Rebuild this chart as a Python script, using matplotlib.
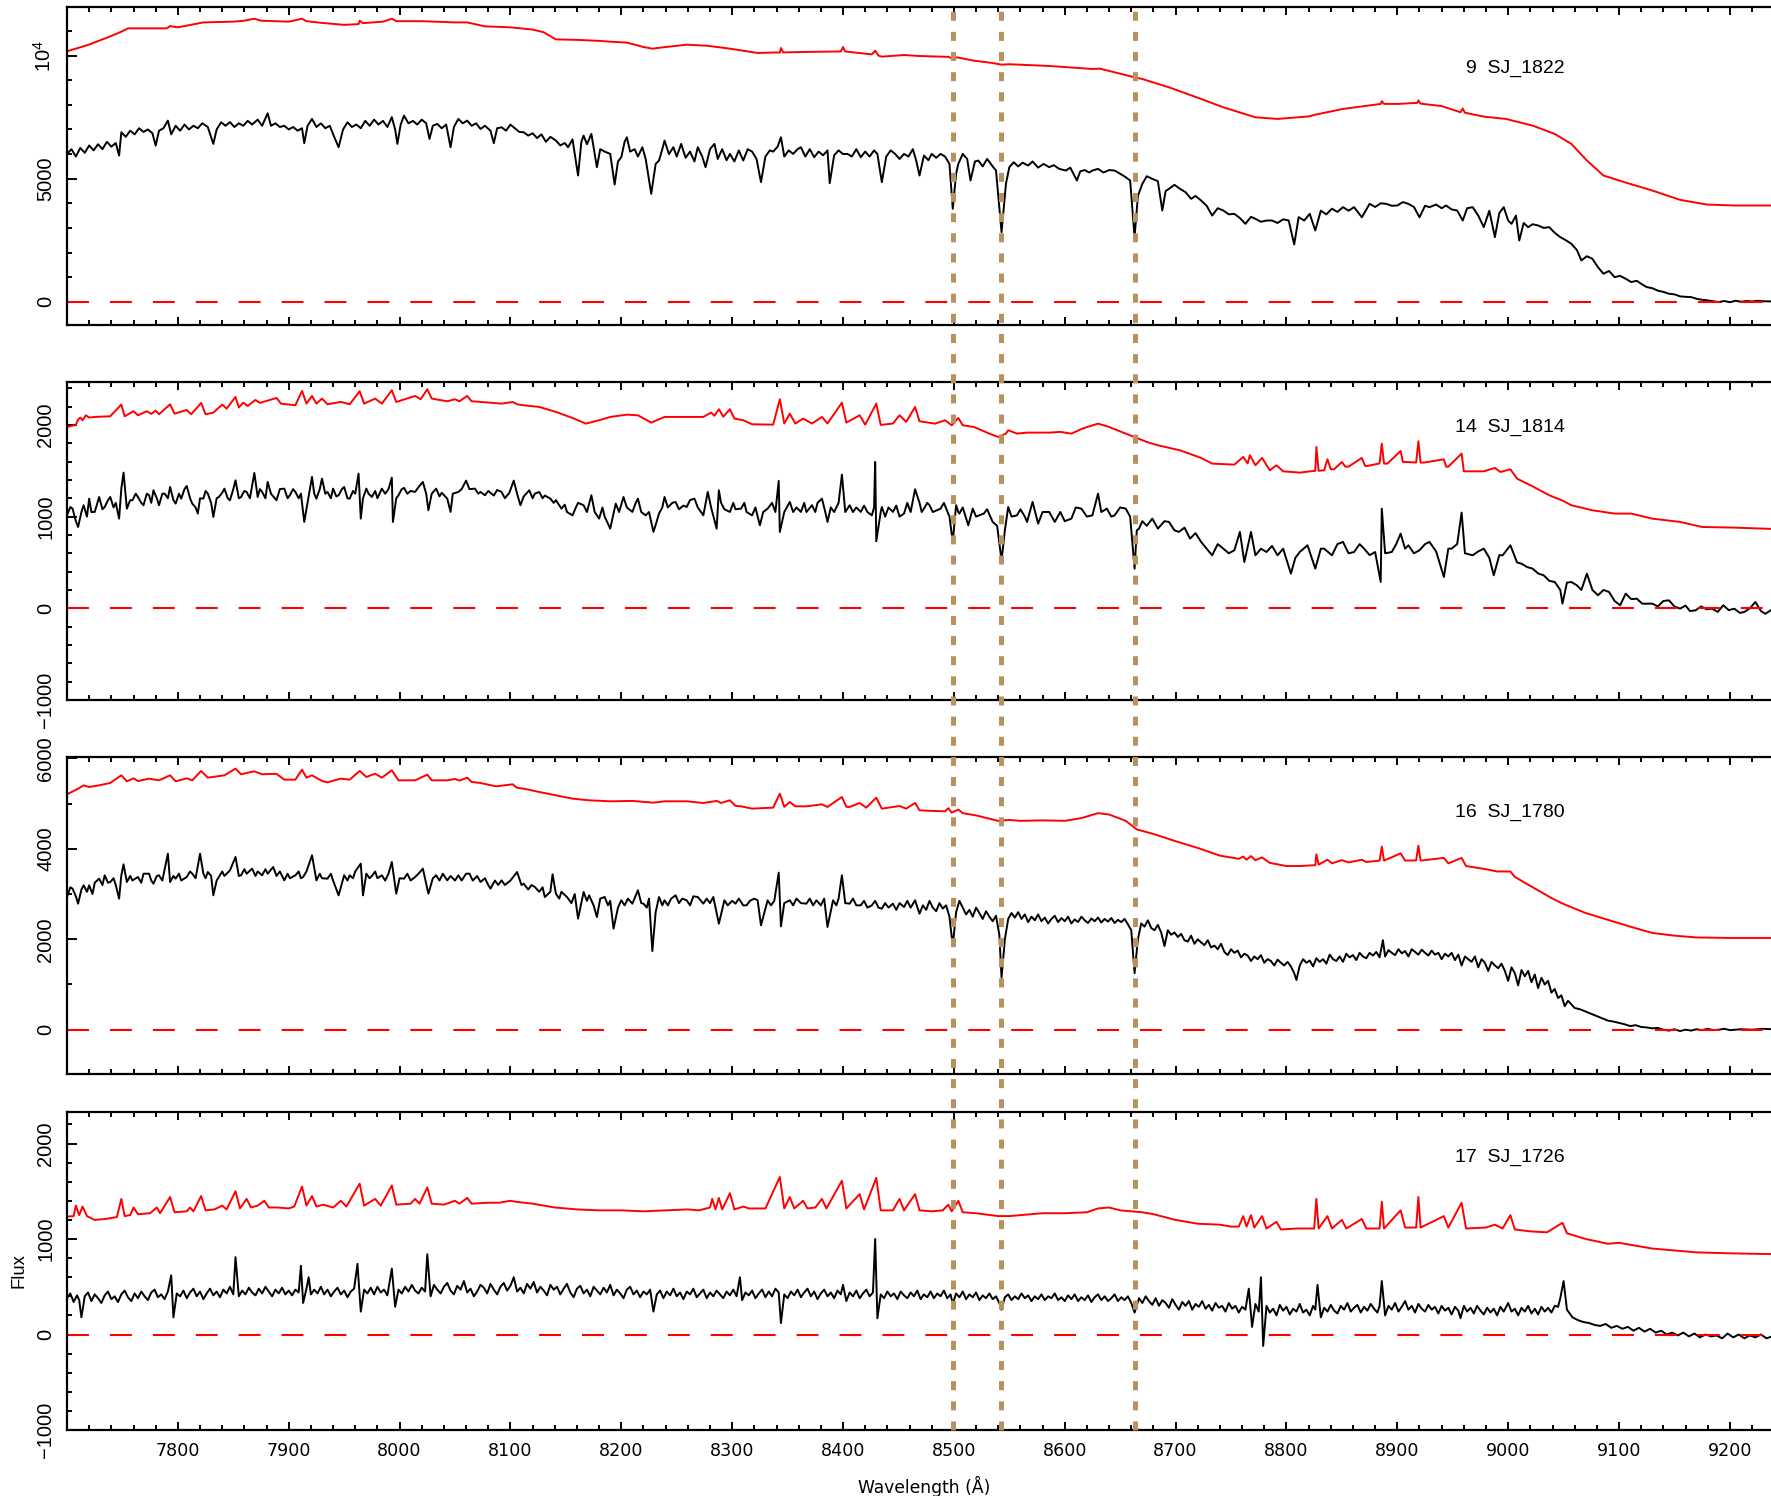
import numpy as np
import matplotlib
matplotlib.use("Agg")
import matplotlib.pyplot as plt
from matplotlib.ticker import MultipleLocator
from matplotlib.lines import Line2D
import matplotlib.transforms as mtransforms

plt.rcParams['lines.scale_dashes'] = False
plt.rcParams['mathtext.fontset'] = 'custom'
plt.rcParams['mathtext.rm'] = 'Liberation Sans'
plt.rcParams['mathtext.it'] = 'Liberation Sans'

# ---------------------------------------------------------------- spectra
# (wavelength [A], flux) pairs; obs = black spectrum, ref = red spectrum

obs1 = [(7700,6007),(7704,6200),(7708,5900),(7712,6250),(7716,6050),(7720,6350),(7724,6150),(7728,6400),
        (7732,6200),(7736,6500),(7740,6300),(7744,6450),(7747,5940),(7749,6887),(7753,6700),(7757,6950),
        (7761,6800),(7765,7050),(7769,6900),(7773,7000),(7777,6850),(7780,6345),(7783,6950),(7787,7050),
        (7791,7360),(7794,6800),(7798,7150),(7802,6950),(7806,7200),(7810,7000),(7814,7150),(7818,7050),
        (7822,7250),(7827,7100),(7832,6413),(7835,7000),(7839,7292),(7843,7150),(7847,7300),(7851,7100),
        (7855,7250),(7859,7150),(7863,7350),(7867,7200),(7872,7400),(7876,7150),(7881,7658),(7884,7150),
        (7888,7250),(7892,7100),(7896,7150),(7900,7000),(7904,7100),(7908,6950),(7912,7050),(7914,6440),
        (7917,7150),(7921,7428),(7925,7100),(7929,7250),(7933,7050),(7937,7150),(7941,6700),(7945,6278),
        (7949,7000),(7953,7292),(7957,7100),(7961,7200),(7965,7050),(7969,7350),(7973,7150),(7977,7400),
        (7981,7200),(7985,7350),(7989,7100),(7993,7500),(7996,7000),(7998,6413),(8001,7200),(8004,7563),
        (8008,7250),(8012,7350),(8016,7200),(8020,7400),(8024,7250),(8027,6616),(8030,7150),(8034,7225),
        (8038,7050),(8042,7200),(8046,6278),(8049,7100),(8053,7428),(8057,7250),(8061,7360),(8065,7150),
        (8069,7250),(8073,7022),(8077,7150),(8082,6950),(8085,6440),(8088,7050),(8092,7090),(8096,6950),
        (8100,7198),(8104,7050),(8108,6900),(8112,6887),(8116,6750),(8120,6846),(8124,6650),(8128,6800),
        (8132,6500),(8136,6700),(8141,6549),(8145,6350),(8149,6450),(8152,6278),(8156,6600),(8161,5128),
        (8164,6500),(8166,6751),(8169,6400),(8173,6819),(8176,6000),(8178,5466),(8181,6200),(8185,6100),
        (8190,6007),(8194,4763),(8197,5700),(8200,5872),(8203,6500),(8205,6684),(8208,6100),(8212,6200),
        (8215,5900),(8219,6278),(8222,5800),(8227,4384),(8231,5600),(8234,5737),(8237,6200),(8239,6549),
        (8243,6000),(8247,6278),(8250,5900),(8254,6413),(8258,5850),(8262,6100),(8266,5700),(8269,6278),
        (8273,5900),(8276,5466),(8280,6200),(8284,6413),(8287,5800),(8291,6200),(8295,5750),(8298,6007),
        (8302,5700),(8306,6150),(8310,5737),(8314,6200),(8318,6100),(8322,5800),(8326,4857),(8330,5900),
        (8334,6150),(8337,6100),(8341,6300),(8344,6684),(8347,5900),(8351,6150),(8355,6007),(8359,6200),
        (8362,6278),(8366,5900),(8370,6200),(8374,5872),(8378,6100),(8382,5950),(8386,6150),(8388,4817),
        (8392,5950),(8396,6150),(8400,6000),(8404,6007),(8408,5900),(8412,6200),(8416,5872),(8420,6100),
        (8424,5900),(8428,6150),(8431,6007),(8435,4857),(8439,5900),(8443,6150),(8447,6007),(8451,5800),
        (8455,6007),(8459,5900),(8463,6200),(8466,5737),(8469,5128),(8473,5940),(8477,5750),(8480,6007),
        (8484,5850),(8488,6007),(8492,5900),(8496,5601),(8499,3775),(8502,5200),(8504,5601),(8508,6007),
        (8512,5800),(8515,4925),(8519,5700),(8522,5737),(8526,5500),(8530,5804),(8535,5500),(8538,5331),
        (8543,2828),(8547,4800),(8550,5466),(8554,5669),(8558,5500),(8562,5650),(8567,5534),(8571,5700),
        (8576,5450),(8581,5600),(8586,5466),(8590,5550),(8595,5400),(8601,5331),(8605,5450),(8611,4925),
        (8614,5300),(8618,5350),(8622,5250),(8625,5331),(8630,5400),(8635,5250),(8640,5350),(8645,5331),
        (8650,5200),(8655,5060),(8659,4925),(8663,2625),(8666,4300),(8670,4790),(8674,5100),(8679,4993),
        (8684,4900),(8688,3707),(8691,4500),(8694,4587),(8699,4750),(8704,4587),(8709,4450),(8714,4181),
        (8718,4300),(8723,4113),(8728,3900),(8733,3504),(8738,3800),(8743,3707),(8748,3550),(8753,3572),
        (8758,3400),(8763,3166),(8768,3450),(8772,3369),(8777,3250),(8782,3300),(8787,3301),(8792,3200),
        (8797,3350),(8802,3301),(8807,2327),(8811,3437),(8816,3300),(8821,3572),(8826,2895),(8831,3700),
        (8836,3550),(8841,3780),(8846,3650),(8851,3843),(8856,3700),(8861,3843),(8868,3431),(8875,3978),
        (8880,3850),(8885,4000),(8890,3978),(8895,3900),(8900,3910),(8905,4050),(8910,3978),(8915,3850),
        (8920,3431),(8925,3900),(8929,3843),(8935,3950),(8940,3800),(8944,3910),(8949,3750),(8954,3707),
        (8959,3300),(8963,3800),(8968,3843),(8973,3500),(8978,3031),(8983,3700),(8988,2625),(8992,3600),
        (8996,3843),(9000,3300),(9003,3166),(9007,3500),(9010,2490),(9014,3200),(9018,3031),(9022,3150),
        (9027,3099),(9032,3000),(9037,3031),(9042,2800),(9047,2625),(9052,2500),(9057,2354),(9062,2100),
        (9066,1678),(9071,1850),(9076,1745),(9081,1400),(9086,1137),(9091,1250),(9096,1000),(9101,1050),
        (9106,934),(9111,800),(9116,850),(9121,700),(9125,595),(9130,550),(9135,450),(9140,400),
        (9145,325),(9150,300),(9155,220),(9160,200),(9165,189),(9170,120),(9175,80),(9180,54),
        (9185,20),(9190,-14),(9195,30),(9200,-20),(9205,40),(9210,0),(9215,30),(9220,10),
        (9225,40),(9230,20),(9237,14),(9247,10)]

ref1 = [(7700,10175),(7720,10450),(7740,10800),(7749,10973),(7755,11108),(7790,11108),(7793,11200),
        (7800,11150),(7823,11350),(7850,11380),(7860,11420),(7869,11500),(7875,11420),(7900,11380),
        (7912,11500),(7916,11400),(7930,11330),(7950,11250),(7963,11280),(7964,11420),(7967,11320),
        (7985,11380),(7993,11500),(7997,11400),(8020,11400),(8050,11350),(8061,11350),(8077,11190),
        (8100,11150),(8120,11060),(8130,10950),(8141,10660),(8160,10640),(8180,10600),(8190,10567),
        (8205,10530),(8220,10350),(8228,10283),(8240,10350),(8259,10445),(8278,10400),(8298,10283),
        (8310,10200),(8323,10107),(8340,10130),(8343,10120),(8344,10310),(8346,10130),(8365,10150),
        (8398,10170),(8400,10350),(8402,10170),(8426,10050),(8429,10200),(8432,10000),(8435,9958),
        (8455,10025),(8469,9985),(8495,9950),(8499,9880),(8503,9930),(8518,9796),(8535,9700),
        (8543,9633),(8550,9650),(8586,9580),(8625,9458),(8632,9470),(8663,9119),(8670,9050),
        (8694,8713),(8723,8240),(8743,7901),(8772,7495),(8792,7428),(8820,7530),(8826,7600),
        (8851,7834),(8885,8037),(8886,8150),(8888,8040),(8900,8037),(8918,8080),(8919,8180),
        (8921,8050),(8940,7950),(8957,7700),(8959,7850),(8961,7680),(8978,7522),(8998,7428),
        (9022,7157),(9042,6819),(9057,6413),(9071,5737),(9086,5128),(9105,4857),(9130,4519),
        (9155,4140),(9179,3951),(9204,3910),(9247,3910)]

obs2 = [(7700,1014),(7703,1105),(7705,1087),(7708,950),(7710,887),(7713,1050),(7715,1124),(7718,1000),
        (7720,1196),(7722,1050),(7725,1051),(7729,1214),(7732,1080),(7734,1105),(7737,1180),(7739,1214),
        (7742,1100),(7744,1150),(7747,978),(7749,1305),(7751,1480),(7754,1087),(7757,1180),(7759,1178),
        (7762,1250),(7764,1214),(7767,1150),(7769,1124),(7772,1250),(7774,1233),(7776,1150),(7778,1287),
        (7781,1200),(7783,1124),(7786,1250),(7788,1251),(7791,1200),(7793,1323),(7796,1180),(7798,1142),
        (7801,1250),(7803,1196),(7806,1300),(7808,1334),(7811,1200),(7813,1142),(7816,1100),(7818,1033),
        (7820,1200),(7823,1196),(7825,1280),(7827,1251),(7830,1150),(7832,996),(7835,1200),(7837,1214),
        (7840,1260),(7842,1305),(7845,1200),(7847,1178),(7850,1300),(7852,1396),(7855,1200),(7857,1214),
        (7860,1280),(7862,1269),(7865,1200),(7869,1476),(7872,1214),(7874,1300),(7876,1269),(7879,1200),
        (7881,1378),(7884,1250),(7889,1178),(7892,1300),(7896,1305),(7899,1200),(7901,1233),(7904,1300),
        (7906,1269),(7909,1200),(7911,1250),(7914,942),(7917,1150),(7921,1433),(7923,1250),(7925,1196),
        (7928,1300),(7930,1414),(7933,1250),(7935,1269),(7938,1200),(7940,1305),(7943,1220),(7945,1233),
        (7948,1300),(7950,1323),(7953,1200),(7955,1196),(7958,1280),(7960,1250),(7963,1469),(7965,978),
        (7967,1200),(7970,1305),(7972,1250),(7975,1214),(7978,1280),(7980,1200),(7984,1305),(7987,1250),
        (7990,1300),(7993,1425),(7994,942),(7997,1200),(7999,1233),(8002,1300),(8004,1313),(8007,1250),
        (8010,1280),(8014,1269),(8017,1320),(8021,1378),(8024,1250),(8026,1069),(8029,1250),(8033,1305),
        (8036,1220),(8038,1260),(8043,1196),(8046,1051),(8048,1250),(8053,1269),(8056,1300),(8060,1393),
        (8063,1300),(8068,1305),(8071,1250),(8073,1269),(8077,1233),(8080,1280),(8085,1230),(8088,1290),
        (8092,1269),(8095,1200),(8099,1260),(8103,1393),(8106,1250),(8109,1124),(8112,1220),(8117,1287),
        (8120,1200),(8122,1250),(8126,1269),(8129,1200),(8131,1230),(8136,1196),(8139,1150),(8141,1180),
        (8146,1087),(8149,1130),(8151,1050),(8156,1014),(8159,1100),(8161,1150),(8166,1124),(8169,1050),
        (8173,1233),(8176,1050),(8180,978),(8183,1100),(8185,1000),(8190,869),(8195,1142),(8198,1050),
        (8202,1214),(8205,1100),(8210,1051),(8213,1150),(8215,1196),(8218,1050),(8222,1014),(8225,1050),
        (8229,833),(8232,950),(8234,1033),(8237,1100),(8239,1214),(8242,1100),(8246,1150),(8249,1160),
        (8252,1080),(8256,1120),(8259,1105),(8262,1180),(8266,1196),(8269,1100),(8274,1014),(8278,1269),
        (8281,1100),(8286,869),(8288,1287),(8290,1150),(8293,1080),(8298,1051),(8301,1150),(8303,1080),
        (8308,1087),(8311,1150),(8313,1050),(8318,1014),(8321,1100),(8325,905),(8328,1050),(8332,1087),
        (8336,1150),(8339,1050),(8342,1389),(8343,833),(8347,1050),(8352,1160),(8355,1050),(8358,1100),
        (8362,1051),(8365,1150),(8367,1050),(8372,1124),(8375,1050),(8377,1150),(8381,1196),(8384,1050),
        (8386,942),(8389,1100),(8392,1050),(8396,1150),(8399,1458),(8402,1050),(8406,1124),(8409,1050),
        (8412,1100),(8416,1051),(8419,1120),(8422,1050),(8426,1014),(8428,1100),(8429,1596),(8430,731),
        (8434,1050),(8435,1105),(8438,1000),(8441,1100),(8445,1051),(8448,1120),(8451,1000),(8455,1033),
        (8458,1150),(8461,1050),(8465,1298),(8469,1150),(8471,1050),(8473,1087),(8476,1150),(8478,1124),
        (8481,1050),(8488,1087),(8491,1150),(8496,1000),(8499,724),(8502,1124),(8504,1050),(8505,1033),
        (8508,1100),(8513,905),(8517,1087),(8520,1000),(8527,1033),(8530,1080),(8535,942),(8539,900),
        (8543,524),(8546,850),(8549,1105),(8552,1000),(8557,1014),(8560,1080),(8564,1000),(8566,942),
        (8571,1160),(8576,923),(8580,1050),(8586,1051),(8591,942),(8596,1051),(8600,950),(8606,978),
        (8610,1100),(8615,1087),(8620,1000),(8625,1014),(8630,1251),(8633,1050),(8638,1087),(8642,1000),
        (8645,1014),(8650,1100),(8655,1087),(8659,1000),(8663,433),(8665,850),(8667,869),(8670,950),
        (8674,900),(8679,978),(8684,869),(8690,950),(8694,942),(8699,850),(8703,833),(8708,880),
        (8713,760),(8718,820),(8723,724),(8728,650),(8733,578),(8738,700),(8743,651),(8748,600),
        (8753,633),(8758,833),(8762,505),(8768,833),(8772,578),(8777,650),(8782,614),(8787,680),
        (8792,578),(8797,650),(8804,378),(8808,550),(8812,614),(8819,687),(8826,433),(8831,650),
        (8834,651),(8841,578),(8846,700),(8851,724),(8856,600),(8861,614),(8866,700),(8870,651),
        (8875,580),(8880,614),(8885,287),(8886,1087),(8889,600),(8895,614),(8899,700),(8903,814),
        (8907,650),(8910,687),(8915,600),(8920,633),(8925,700),(8929,724),(8935,620),(8942,342),
        (8946,650),(8949,651),(8954,700),(8958,1044),(8961,600),(8968,578),(8973,620),(8978,651),
        (8983,550),(8987,360),(8992,580),(8995,578),(9002,687),(9008,500),(9012,487),(9017,450),
        (9022,433),(9027,380),(9032,360),(9037,300),(9042,287),(9047,200),(9049,51),(9053,280),
        (9057,287),(9062,250),(9066,200),(9071,378),(9076,200),(9081,142),(9086,200),(9091,178),
        (9096,80),(9101,33),(9106,160),(9111,100),(9116,105),(9121,50),(9130,51),(9135,20),
        (9140,80),(9145,87),(9150,20),(9155,-4),(9160,30),(9164,-30),(9169,-22),(9174,20),
        (9179,-10),(9184,-4),(9189,-40),(9194,33),(9199,-20),(9204,-4),(9209,-50),(9213,-40),
        (9218,0),(9223,69),(9228,-30),(9232,-60),(9237,-20),(9247,-30)]

ref2 = [(7700,1978),(7708,2000),(7710,2060),(7712,2080),(7714,2050),(7717,2105),(7720,2080),(7725,2087),
        (7739,2094),(7749,2222),(7752,2094),(7760,2149),(7764,2105),(7772,2149),(7776,2120),(7780,2156),
        (7783,2116),(7793,2225),(7797,2123),(7808,2163),(7812,2116),(7821,2240),(7825,2116),(7832,2134),
        (7840,2222),(7844,2178),(7852,2305),(7855,2190),(7859,2243),(7863,2207),(7870,2272),(7874,2240),
        (7889,2294),(7893,2232),(7906,2214),(7912,2371),(7916,2232),(7921,2316),(7925,2232),(7930,2287),
        (7935,2225),(7947,2251),(7955,2225),(7964,2367),(7968,2232),(7978,2287),(7984,2232),(7993,2378),
        (7997,2250),(8014,2316),(8019,2280),(8025,2389),(8029,2287),(8043,2258),(8050,2280),(8054,2258),
        (8061,2316),(8065,2258),(8073,2251),(8092,2232),(8102,2250),(8106,2225),(8112,2214),(8126,2196),
        (8141,2142),(8156,2076),(8168,2014),(8180,2051),(8190,2087),(8205,2112),(8215,2105),(8227,2025),
        (8239,2087),(8259,2087),(8274,2087),(8281,2134),(8284,2100),(8288,2171),(8292,2090),(8298,2171),
        (8302,2069),(8310,2051),(8318,2007),(8337,2003),(8343,2280),(8347,2015),(8352,2123),(8357,2015),
        (8364,2069),(8372,2015),(8381,2087),(8386,2015),(8399,2243),(8403,2025),(8415,2105),(8420,2003),
        (8430,2232),(8434,2000),(8445,2015),(8451,2105),(8457,2033),(8465,2196),(8469,2040),(8483,2014),
        (8492,2051),(8498,1996),(8504,2076),(8508,1996),(8518,1978),(8532,1905),(8540,1869),(8547,1905),
        (8549,1942),(8557,1905),(8566,1916),(8586,1916),(8596,1924),(8606,1905),(8616,1960),(8630,2014),
        (8640,1978),(8655,1905),(8665,1858),(8674,1814),(8684,1778),(8704,1723),(8723,1640),(8733,1578),
        (8753,1567),(8761,1651),(8765,1580),(8767,1669),(8772,1560),(8778,1640),(8785,1505),(8791,1560),
        (8797,1494),(8812,1480),(8826,1500),(8827,1760),(8829,1500),(8834,1505),(8837,1625),(8840,1516),
        (8843,1516),(8850,1596),(8853,1545),(8856,1545),(8868,1640),(8871,1552),(8873,1552),(8884,1580),
        (8886,1796),(8888,1578),(8891,1578),(8903,1716),(8905,1596),(8907,1596),(8917,1590),(8919,1822),
        (8921,1589),(8924,1589),(8942,1625),(8944,1545),(8946,1545),(8958,1687),(8960,1494),(8964,1494),
        (8978,1494),(8988,1531),(8993,1487),(9002,1516),(9008,1414),(9023,1324),(9037,1233),(9049,1175),
        (9057,1124),(9076,1069),(9096,1033),(9111,1033),(9130,978),(9155,942),(9175,887),(9204,880),
        (9247,862)]

obs3 = [(7700,2935),(7703,3150),(7705,3120),(7708,2950),(7710,2788),(7713,3100),(7715,3193),(7718,3050),
        (7720,3193),(7723,3000),(7725,3250),(7729,3341),(7732,3200),(7734,3415),(7737,3250),(7739,3267),
        (7742,3350),(7744,3200),(7747,2898),(7749,3415),(7751,3658),(7754,3267),(7757,3400),(7759,3300),
        (7764,3378),(7767,3250),(7769,3450),(7774,3452),(7776,3300),(7778,3230),(7781,3400),(7783,3415),
        (7786,3300),(7791,3894),(7793,3267),(7796,3400),(7798,3341),(7801,3450),(7803,3300),(7808,3378),
        (7811,3500),(7813,3452),(7816,3350),(7820,3894),(7823,3452),(7825,3350),(7827,3488),(7830,3400),
        (7832,2972),(7835,3300),(7837,3378),(7840,3500),(7842,3400),(7847,3525),(7852,3820),(7855,3400),
        (7857,3415),(7860,3550),(7862,3450),(7867,3562),(7870,3400),(7872,3500),(7876,3415),(7879,3550),
        (7881,3450),(7886,3599),(7889,3400),(7892,3500),(7896,3304),(7899,3450),(7901,3350),(7906,3415),
        (7909,3500),(7911,3350),(7913,3378),(7916,3500),(7921,3857),(7925,3304),(7928,3450),(7930,3350),
        (7935,3341),(7938,3450),(7940,3300),(7945,2972),(7950,3415),(7953,3300),(7955,3415),(7958,3350),
        (7960,3500),(7965,3673),(7967,2972),(7970,3452),(7973,3350),(7975,3400),(7978,3500),(7980,3350),
        (7984,3415),(7987,3300),(7990,3450),(7993,3710),(7997,3009),(8000,3350),(8004,3341),(8007,3450),
        (8010,3300),(8014,3378),(8017,3450),(8021,3562),(8026,3009),(8030,3350),(8033,3415),(8036,3300),
        (8039,3450),(8043,3304),(8046,3400),(8050,3300),(8053,3415),(8056,3300),(8060,3450),(8063,3452),
        (8066,3300),(8070,3400),(8073,3267),(8077,3350),(8080,3200),(8082,3120),(8086,3300),(8089,3200),
        (8092,3304),(8095,3200),(8100,3300),(8106,3488),(8110,3200),(8112,3230),(8116,3100),(8119,3200),
        (8122,3157),(8126,3050),(8129,3150),(8131,2935),(8136,3050),(8138,3437),(8141,3009),(8144,2900),
        (8146,3050),(8151,2935),(8155,2800),(8158,3000),(8161,2456),(8166,3046),(8169,2850),(8171,2972),
        (8175,2750),(8178,2493),(8181,2900),(8185,2935),(8188,2750),(8190,2850),(8193,2235),(8197,2700),
        (8200,2862),(8203,2750),(8206,2900),(8210,2788),(8215,3083),(8218,2800),(8220,2788),(8223,2700),
        (8225,2900),(8228,1740),(8231,2600),(8234,2935),(8237,2750),(8239,2862),(8242,2750),(8245,2900),
        (8249,2972),(8252,2800),(8255,2900),(8259,2862),(8262,2750),(8265,2950),(8269,2935),(8274,2788),
        (8277,2900),(8280,2800),(8283,2935),(8288,2345),(8293,2862),(8296,2750),(8300,2850),(8303,2788),
        (8306,2900),(8310,2750),(8313,2751),(8316,2850),(8320,2900),(8323,2862),(8326,2308),(8332,2862),
        (8335,2750),(8338,2850),(8342,3474),(8344,2286),(8347,2800),(8352,2862),(8355,2750),(8358,2900),
        (8362,2800),(8367,2788),(8370,2900),(8373,2750),(8376,2862),(8380,2750),(8383,2900),(8386,2272),
        (8391,2862),(8394,2750),(8396,2900),(8399,3415),(8402,2800),(8406,2788),(8409,2900),(8412,2750),
        (8416,2751),(8419,2850),(8422,2700),(8426,2751),(8429,2850),(8432,2700),(8435,2677),(8438,2800),
        (8441,2700),(8445,2788),(8448,2650),(8451,2800),(8455,2714),(8458,2850),(8461,2700),(8465,2862),
        (8469,2566),(8472,2750),(8475,2650),(8478,2850),(8481,2700),(8484,2620),(8487,2800),(8490,2680),
        (8493,2750),(8496,2500),(8499,1850),(8502,2600),(8505,2850),(8508,2700),(8511,2550),(8514,2650),
        (8517,2500),(8520,2700),(8523,2580),(8526,2450),(8529,2620),(8532,2500),(8535,2400),(8538,2520),
        (8541,2100),(8543,1150),(8546,2000),(8549,2450),(8552,2580),(8555,2480),(8558,2600),(8561,2450),
        (8564,2550),(8567,2380),(8570,2500),(8573,2420),(8576,2550),(8579,2400),(8582,2480),(8585,2350),
        (8588,2450),(8591,2520),(8594,2380),(8597,2470),(8600,2400),(8603,2500),(8606,2350),(8609,2440),
        (8612,2380),(8615,2500),(8618,2420),(8621,2360),(8624,2460),(8627,2400),(8630,2480),(8633,2370),
        (8636,2450),(8639,2390),(8642,2470),(8645,2360),(8648,2430),(8651,2380),(8654,2450),(8657,2330),
        (8660,2200),(8663,1250),(8666,2000),(8669,2350),(8672,2280),(8675,2420),(8678,2250),(8681,2200),
        (8684,2320),(8687,2150),(8690,1850),(8693,2200),(8696,2100),(8699,2150),(8702,2050),(8705,2120),
        (8708,1980),(8711,1950),(8714,2080),(8717,1900),(8720,2000),(8723,1930),(8726,1870),(8729,1980),
        (8732,1820),(8735,1860),(8738,1780),(8741,1900),(8744,1720),(8747,1650),(8750,1780),(8753,1700),
        (8756,1750),(8759,1600),(8762,1680),(8765,1640),(8768,1520),(8771,1620),(8774,1560),(8777,1650),
        (8780,1480),(8783,1560),(8786,1520),(8789,1420),(8792,1550),(8795,1480),(8798,1420),(8801,1500),
        (8804,1400),(8807,1250),(8809,1100),(8812,1420),(8815,1560),(8818,1480),(8821,1530),(8824,1400),
        (8827,1580),(8830,1500),(8833,1560),(8836,1460),(8839,1660),(8842,1560),(8845,1520),(8848,1620),
        (8851,1500),(8854,1680),(8857,1600),(8860,1650),(8863,1540),(8866,1700),(8869,1620),(8872,1580),
        (8875,1700),(8878,1640),(8881,1720),(8884,1600),(8887,1980),(8889,1620),(8892,1760),(8895,1700),
        (8898,1650),(8901,1780),(8904,1690),(8907,1740),(8910,1620),(8913,1780),(8916,1720),(8919,1660),
        (8922,1770),(8925,1700),(8928,1640),(8931,1750),(8934,1660),(8937,1700),(8940,1560),(8943,1680),
        (8946,1620),(8949,1700),(8952,1540),(8955,1660),(8958,1420),(8961,1620),(8964,1560),(8967,1500),
        (8970,1620),(8973,1380),(8976,1560),(8979,1480),(8982,1300),(8985,1500),(8988,1420),(8991,1360),
        (8994,1460),(8997,1300),(9000,1080),(9003,1380),(9006,1250),(9009,980),(9012,1320),(9015,1180),
        (9018,1300),(9021,1050),(9024,1220),(9027,920),(9030,1150),(9033,1000),(9036,1080),(9039,820),
        (9042,900),(9045,700),(9048,760),(9051,520),(9054,640),(9057,560),(9060,480),(9065,450),
        (9070,400),(9075,350),(9080,300),(9085,250),(9090,200),(9095,180),(9100,150),(9105,120),
        (9110,80),(9115,100),(9120,60),(9125,50),(9130,30),(9135,40),(9140,0),(9145,-20),
        (9150,10),(9155,-30),(9160,0),(9165,-20),(9170,10),(9175,-10),(9180,20),(9185,-10),
        (9190,0),(9195,20),(9200,-10),(9210,10),(9220,0),(9230,20),(9247,0)]

ref3 = [(7700,5207),(7710,5330),(7715,5405),(7720,5368),(7729,5405),(7739,5458),(7749,5627),(7754,5494),
        (7760,5560),(7764,5500),(7774,5553),(7783,5516),(7793,5627),(7798,5494),(7808,5560),(7813,5516),
        (7821,5724),(7827,5575),(7842,5627),(7852,5775),(7857,5649),(7862,5678),(7869,5715),(7876,5649),
        (7889,5660),(7896,5531),(7906,5531),(7912,5752),(7916,5575),(7921,5627),(7930,5501),(7935,5472),
        (7947,5553),(7955,5531),(7964,5724),(7970,5590),(7978,5663),(7984,5575),(7993,5738),(7999,5516),
        (8014,5516),(8025,5642),(8029,5516),(8043,5516),(8050,5546),(8054,5510),(8061,5575),(8065,5480),
        (8073,5457),(8087,5383),(8102,5428),(8106,5350),(8112,5332),(8126,5258),(8141,5185),(8156,5111),
        (8171,5074),(8190,5052),(8210,5060),(8229,5022),(8239,5052),(8259,5052),(8274,5015),(8286,5060),
        (8290,5015),(8298,5074),(8303,4950),(8308,4941),(8318,4890),(8337,4912),(8343,5221),(8347,4930),
        (8352,5037),(8357,4941),(8367,4941),(8381,4985),(8386,4927),(8399,5148),(8403,4930),(8406,4927),
        (8415,5015),(8421,4912),(8430,5133),(8435,4890),(8451,4948),(8457,4890),(8465,5015),(8469,4853),
        (8480,4840),(8492,4830),(8495,4900),(8498,4800),(8504,4870),(8508,4790),(8520,4740),(8540,4620),
        (8550,4640),(8560,4620),(8580,4630),(8600,4620),(8615,4680),(8630,4790),(8640,4760),(8655,4620),
        (8665,4430),(8680,4330),(8700,4170),(8720,4020),(8740,3850),(8757,3780),(8761,3830),(8764,3760),
        (8768,3840),(8772,3750),(8778,3810),(8785,3690),(8800,3620),(8812,3620),(8826,3640),(8827,3880),
        (8829,3650),(8837,3760),(8841,3680),(8850,3750),(8856,3700),(8868,3760),(8872,3710),(8884,3740),
        (8886,4050),(8888,3740),(8903,3900),(8907,3740),(8917,3745),(8919,4070),(8921,3740),(8942,3800),
        (8946,3680),(8958,3800),(8962,3620),(8980,3550),(8990,3500),(9002,3500),(9006,3380),(9020,3180),
        (9040,2900),(9050,2780),(9070,2580),(9090,2430),(9110,2280),(9130,2140),(9150,2080),(9170,2040),
        (9200,2030),(9247,2030)]

obs4 = [(7700,380),(7703,430),(7706,340),(7709,410),(7711,360),(7713,180),(7716,400),(7719,440),
        (7722,350),(7725,420),(7728,380),(7731,330),(7734,410),(7737,450),(7740,370),(7743,400),
        (7746,340),(7749,420),(7752,460),(7755,390),(7758,350),(7761,430),(7764,380),(7767,450),
        (7770,400),(7773,360),(7776,440),(7779,470),(7782,390),(7785,420),(7788,370),(7791,450),
        (7794,620),(7796,180),(7799,430),(7802,400),(7805,460),(7808,380),(7811,440),(7814,480),
        (7817,400),(7820,450),(7823,370),(7826,430),(7829,480),(7832,410),(7835,450),(7838,390),
        (7841,470),(7844,430),(7847,500),(7850,420),(7852,810),(7855,400),(7858,460),(7861,420),
        (7864,490),(7867,440),(7870,410),(7873,480),(7876,430),(7879,500),(7882,450),(7885,400),
        (7888,470),(7891,430),(7894,490),(7897,420),(7900,460),(7903,410),(7906,470),(7909,440),
        (7911,720),(7913,330),(7916,480),(7918,600),(7920,420),(7923,470),(7926,430),(7929,500),
        (7932,420),(7935,470),(7938,400),(7941,450),(7944,490),(7947,420),(7950,460),(7953,390),
        (7956,450),(7959,480),(7962,740),(7965,240),(7968,470),(7971,430),(7974,490),(7977,420),
        (7980,500),(7983,440),(7986,470),(7989,410),(7993,690),(7996,290),(7999,470),(8002,430),
        (8005,500),(8008,450),(8011,520),(8014,460),(8017,430),(8020,490),(8023,450),(8025,840),
        (8028,400),(8031,520),(8034,470),(8037,430),(8040,500),(8043,540),(8046,460),(8049,420),
        (8052,510),(8055,470),(8058,560),(8061,440),(8064,480),(8067,400),(8070,450),(8073,520),
        (8076,490),(8079,430),(8082,530),(8085,470),(8088,420),(8091,500),(8094,540),(8097,460),
        (8100,510),(8103,600),(8106,450),(8109,490),(8112,430),(8115,530),(8118,480),(8121,550),
        (8124,440),(8127,500),(8130,460),(8133,410),(8136,520),(8139,470),(8142,500),(8145,420),
        (8148,480),(8151,530),(8154,440),(8157,390),(8160,480),(8163,510),(8166,430),(8169,470),
        (8172,400),(8175,500),(8178,460),(8181,420),(8184,490),(8187,440),(8190,520),(8193,410),
        (8196,470),(8199,430),(8202,380),(8205,470),(8208,500),(8211,420),(8214,460),(8217,390),
        (8220,450),(8223,420),(8226,470),(8229,240),(8232,420),(8235,460),(8238,380),(8241,450),
        (8244,410),(8247,480),(8250,400),(8253,440),(8256,370),(8259,450),(8262,420),(8265,480),
        (8268,390),(8271,430),(8274,470),(8277,380),(8280,440),(8283,400),(8286,460),(8289,420),
        (8292,380),(8295,450),(8298,410),(8301,470),(8304,400),(8307,600),(8309,360),(8312,440),
        (8315,410),(8318,460),(8321,380),(8324,430),(8327,470),(8330,390),(8333,450),(8336,400),
        (8339,480),(8342,440),(8344,120),(8347,420),(8350,380),(8353,450),(8356,410),(8359,470),
        (8362,390),(8365,440),(8368,480),(8371,400),(8374,450),(8377,370),(8380,430),(8383,470),
        (8386,400),(8389,440),(8392,380),(8395,460),(8398,420),(8400,520),(8403,350),(8406,440),
        (8409,400),(8412,460),(8415,380),(8418,430),(8421,470),(8424,400),(8427,440),(8429,1000),
        (8431,170),(8434,420),(8437,380),(8440,450),(8443,400),(8446,430),(8449,370),(8452,450),
        (8455,410),(8458,380),(8461,440),(8464,400),(8467,460),(8470,370),(8473,420),(8476,390),
        (8479,450),(8482,380),(8485,430),(8488,400),(8491,460),(8494,380),(8497,420),(8499,320),
        (8502,430),(8505,390),(8508,450),(8511,370),(8514,420),(8517,390),(8520,440),(8523,360),
        (8526,410),(8529,380),(8532,430),(8535,370),(8538,400),(8541,330),(8543,260),(8546,390),
        (8549,420),(8552,360),(8555,400),(8558,370),(8561,430),(8564,380),(8567,410),(8570,350),
        (8573,400),(8576,370),(8579,420),(8582,360),(8585,400),(8588,380),(8591,430),(8594,360),
        (8597,390),(8600,350),(8603,410),(8606,370),(8609,420),(8612,350),(8615,390),(8618,360),
        (8621,410),(8624,340),(8627,390),(8630,420),(8633,360),(8636,400),(8639,350),(8642,380),
        (8645,420),(8648,350),(8651,390),(8654,360),(8657,400),(8660,330),(8663,230),(8667,380),
        (8670,330),(8673,400),(8676,350),(8679,310),(8682,380),(8685,300),(8688,360),(8691,330),
        (8694,280),(8697,370),(8700,310),(8703,260),(8706,340),(8709,300),(8712,350),(8715,260),
        (8718,320),(8721,290),(8724,350),(8727,270),(8730,310),(8733,250),(8736,330),(8739,280),
        (8742,300),(8745,240),(8748,330),(8751,270),(8754,300),(8757,230),(8760,290),(8763,260),
        (8766,480),(8769,80),(8772,320),(8775,240),(8777,600),(8779,-120),(8782,300),(8785,230),
        (8788,270),(8791,200),(8794,310),(8797,250),(8800,290),(8803,210),(8806,270),(8809,240),
        (8812,320),(8815,230),(8818,260),(8821,200),(8824,300),(8826,260),(8828,520),(8831,180),
        (8834,280),(8837,240),(8840,310),(8843,250),(8846,220),(8849,300),(8852,260),(8855,330),
        (8858,240),(8861,280),(8864,310),(8867,230),(8870,290),(8873,250),(8876,320),(8879,270),
        (8882,230),(8884,300),(8886,560),(8889,200),(8892,300),(8895,260),(8898,330),(8901,240),
        (8904,290),(8907,350),(8910,260),(8913,300),(8916,230),(8919,320),(8922,270),(8925,240),
        (8928,310),(8931,260),(8934,290),(8937,220),(8940,300),(8943,250),(8946,280),(8949,210),
        (8952,290),(8955,250),(8957,170),(8960,300),(8963,240),(8966,280),(8969,220),(8972,300),
        (8975,250),(8978,210),(8981,280),(8984,230),(8987,270),(8990,200),(8993,290),(8996,240),
        (9000,330),(9003,240),(9006,270),(9009,200),(9012,280),(9015,240),(9018,300),(9021,220),
        (9024,270),(9027,210),(9030,290),(9033,240),(9036,280),(9039,230),(9042,300),(9045,290),
        (9047,380),(9050,560),(9053,260),(9058,180),(9063,150),(9068,130),(9073,120),(9078,100),
        (9083,90),(9088,110),(9093,70),(9098,90),(9103,60),(9108,80),(9113,40),(9118,70),
        (9123,30),(9128,60),(9133,20),(9138,40),(9143,0),(9148,20),(9153,-10),(9158,20),
        (9163,-20),(9168,10),(9173,-30),(9178,0),(9183,-20),(9188,-10),(9193,-40),(9198,10),
        (9203,-30),(9208,0),(9213,-40),(9218,-10),(9223,-30),(9228,0),(9233,-40),(9238,-20),
        (9247,-30)]

ref4 = [(7700,1235),(7706,1240),(7708,1350),(7711,1250),(7714,1340),(7718,1240),(7725,1200),(7735,1210),
        (7745,1230),(7749,1420),(7752,1240),(7757,1250),(7760,1330),(7764,1260),(7775,1270),(7781,1330),
        (7784,1270),(7793,1440),(7797,1280),(7808,1290),(7811,1330),(7814,1290),(7821,1450),(7825,1300),
        (7833,1310),(7840,1350),(7844,1310),(7852,1500),(7856,1320),(7862,1420),(7866,1330),(7872,1350),
        (7878,1400),(7882,1330),(7890,1330),(7900,1320),(7905,1340),(7912,1550),(7916,1350),(7921,1450),
        (7925,1340),(7931,1360),(7940,1330),(7947,1400),(7952,1340),(7964,1580),(7968,1350),(7978,1420),
        (7983,1350),(7993,1560),(7997,1360),(8010,1370),(8014,1420),(8018,1370),(8025,1540),(8029,1370),
        (8040,1360),(8050,1400),(8054,1370),(8061,1430),(8065,1370),(8080,1380),(8090,1380),(8100,1400),
        (8105,1390),(8120,1370),(8140,1330),(8160,1310),(8180,1300),(8200,1300),(8220,1290),(8240,1300),
        (8260,1310),(8270,1300),(8280,1330),(8282,1420),(8285,1310),(8288,1430),(8291,1310),(8298,1480),
        (8302,1310),(8310,1340),(8315,1320),(8330,1320),(8343,1650),(8347,1320),(8352,1440),(8356,1320),
        (8364,1400),(8368,1320),(8375,1330),(8381,1420),(8385,1320),(8399,1610),(8403,1320),(8415,1470),
        (8419,1310),(8430,1640),(8434,1300),(8445,1300),(8451,1420),(8455,1300),(8465,1470),(8469,1300),
        (8480,1290),(8490,1300),(8495,1360),(8498,1290),(8504,1400),(8508,1280),(8520,1270),(8540,1240),
        (8550,1240),(8560,1250),(8580,1270),(8600,1270),(8620,1280),(8630,1320),(8640,1330),(8650,1300),
        (8660,1290),(8670,1280),(8680,1260),(8700,1200),(8720,1160),(8740,1150),(8750,1130),(8757,1130),
        (8761,1240),(8764,1130),(8768,1250),(8771,1120),(8778,1240),(8782,1110),(8791,1180),(8795,1100),
        (8810,1110),(8825,1110),(8827,1420),(8829,1110),(8837,1240),(8841,1110),(8850,1200),(8854,1110),
        (8868,1210),(8872,1110),(8884,1110),(8886,1390),(8888,1110),(8903,1300),(8907,1120),(8917,1120),
        (8919,1440),(8921,1120),(8942,1240),(8946,1120),(8958,1380),(8962,1110),(8980,1120),(8988,1150),
        (8995,1110),(9002,1250),(9006,1100),(9020,1080),(9035,1070),(9049,1170),(9053,1060),(9070,1000),
        (9090,950),(9100,960),(9110,940),(9130,900),(9150,880),(9170,860),(9200,850),(9247,840)]

spectra = [(obs1, ref1), (obs2, ref2), (obs3, ref3), (obs4, ref4)]

star_labels = ["9  SJ_1822", "14  SJ_1814", "16  SJ_1780", "17  SJ_1726"]
label_y = [0.808, 0.858, 0.826, 0.858]

ca_triplet = [8499.5, 8542.8, 8663.2]

y_limits = [(-945, 11976), (-1000, 2468), (-980, 6032), (-1000, 2330)]
y_major = [[0, 5000, 10000], [-1000, 0, 1000, 2000], [0, 2000, 4000, 6000], [-1000, 0, 1000, 2000]]
y_major_labels = [["0", "5000", r"$10^4$"],
                  ["\u22121000", "0", "1000", "2000"],
                  ["0", "2000", "4000", "6000"],
                  ["\u22121000", "0", "1000", "2000"]]
y_minor_step = [1000, 200, 1000, 200]

x_limits = (7700, 9247)
x_major = [7800, 7900, 8000, 8100, 8200, 8300, 8400, 8500, 8600, 8700, 8800, 8900, 9000, 9100, 9200]

# ---------------------------------------------------------------- layout
W, H = 1771, 1496
fig = plt.figure(figsize=(W / 100, H / 100), dpi=100)
panel_rows = [(7, 325), (382, 700), (757, 1074), (1112, 1430)]
left_px, right_px = 67, 1782

axes = []
for i, (top, bot) in enumerate(panel_rows):
    ax = fig.add_axes([left_px / W, 1 - bot / H, (right_px - left_px) / W, (bot - top) / H])
    obs, ref = spectra[i]
    rw, rf = np.array(ref).T
    ow, of = np.array(obs).T
    ax.plot(rw, rf, color="#ff0000", lw=1.4, solid_joinstyle="round")
    ax.plot(ow, of, color="black", lw=1.4, solid_joinstyle="round")
    ax.axhline(0, color="#ff0000", lw=1.5, dashes=(15.8, 15.1))

    ax.set_xlim(*x_limits)
    ax.set_ylim(*y_limits[i])
    ax.set_xticks(x_major)
    ax.xaxis.set_minor_locator(MultipleLocator(20))
    ax.set_yticks(y_major[i], y_major_labels[i])
    ax.yaxis.set_minor_locator(MultipleLocator(y_minor_step[i]))

    ax.tick_params(which="both", direction="in", top=True, right=False, width=1.4, color="black")
    ax.tick_params(axis="x", which="major", length=6.0)
    ax.tick_params(axis="x", which="minor", length=3.4)
    ax.tick_params(axis="y", which="major", length=7.2, pad=8.5)
    ax.tick_params(axis="y", which="minor", length=3.6)
    for lab in ax.get_yticklabels():
        lab.set_rotation(90)
        lab.set_va("center")
        lab.set_fontfamily("Liberation Sans")
        lab.set_fontsize(14.5)
    if i < 3:
        ax.tick_params(axis="x", labelbottom=False)
    else:
        ax.tick_params(axis="x", pad=9)
        for lab in ax.get_xticklabels():
            lab.set_fontfamily("DejaVu Sans")
            lab.set_fontsize(12.6)
    for side in ("left", "bottom", "top"):
        ax.spines[side].set_linewidth(1.6)
    ax.spines["right"].set_visible(False)

    ax.text(0.8735, label_y[i], star_labels[i], transform=ax.transAxes, ha="right", va="center",
            fontsize=14, family="Liberation Sans")
    axes.append(ax)

axes[3].set_xlabel("Wavelength (\u00c5)", fontsize=12.3, family="DejaVu Sans", labelpad=11)
axes[3].set_ylabel("Flux", fontsize=13.3, family="Liberation Sans")
axes[3].yaxis.set_label_coords(-0.0233, 0.5)

# Ca II triplet markers running through all panels
trans = mtransforms.blended_transform_factory(axes[3].transData, fig.transFigure)
for lam in ca_triplet:
    fig.add_artist(Line2D([lam, lam], [1 - 1430 / H, 1 - 9 / H], transform=trans,
                          color="#b99160", lw=3.6, dashes=(6.5, 8.0), zorder=5))

fig.savefig("out.png", dpi=100)
